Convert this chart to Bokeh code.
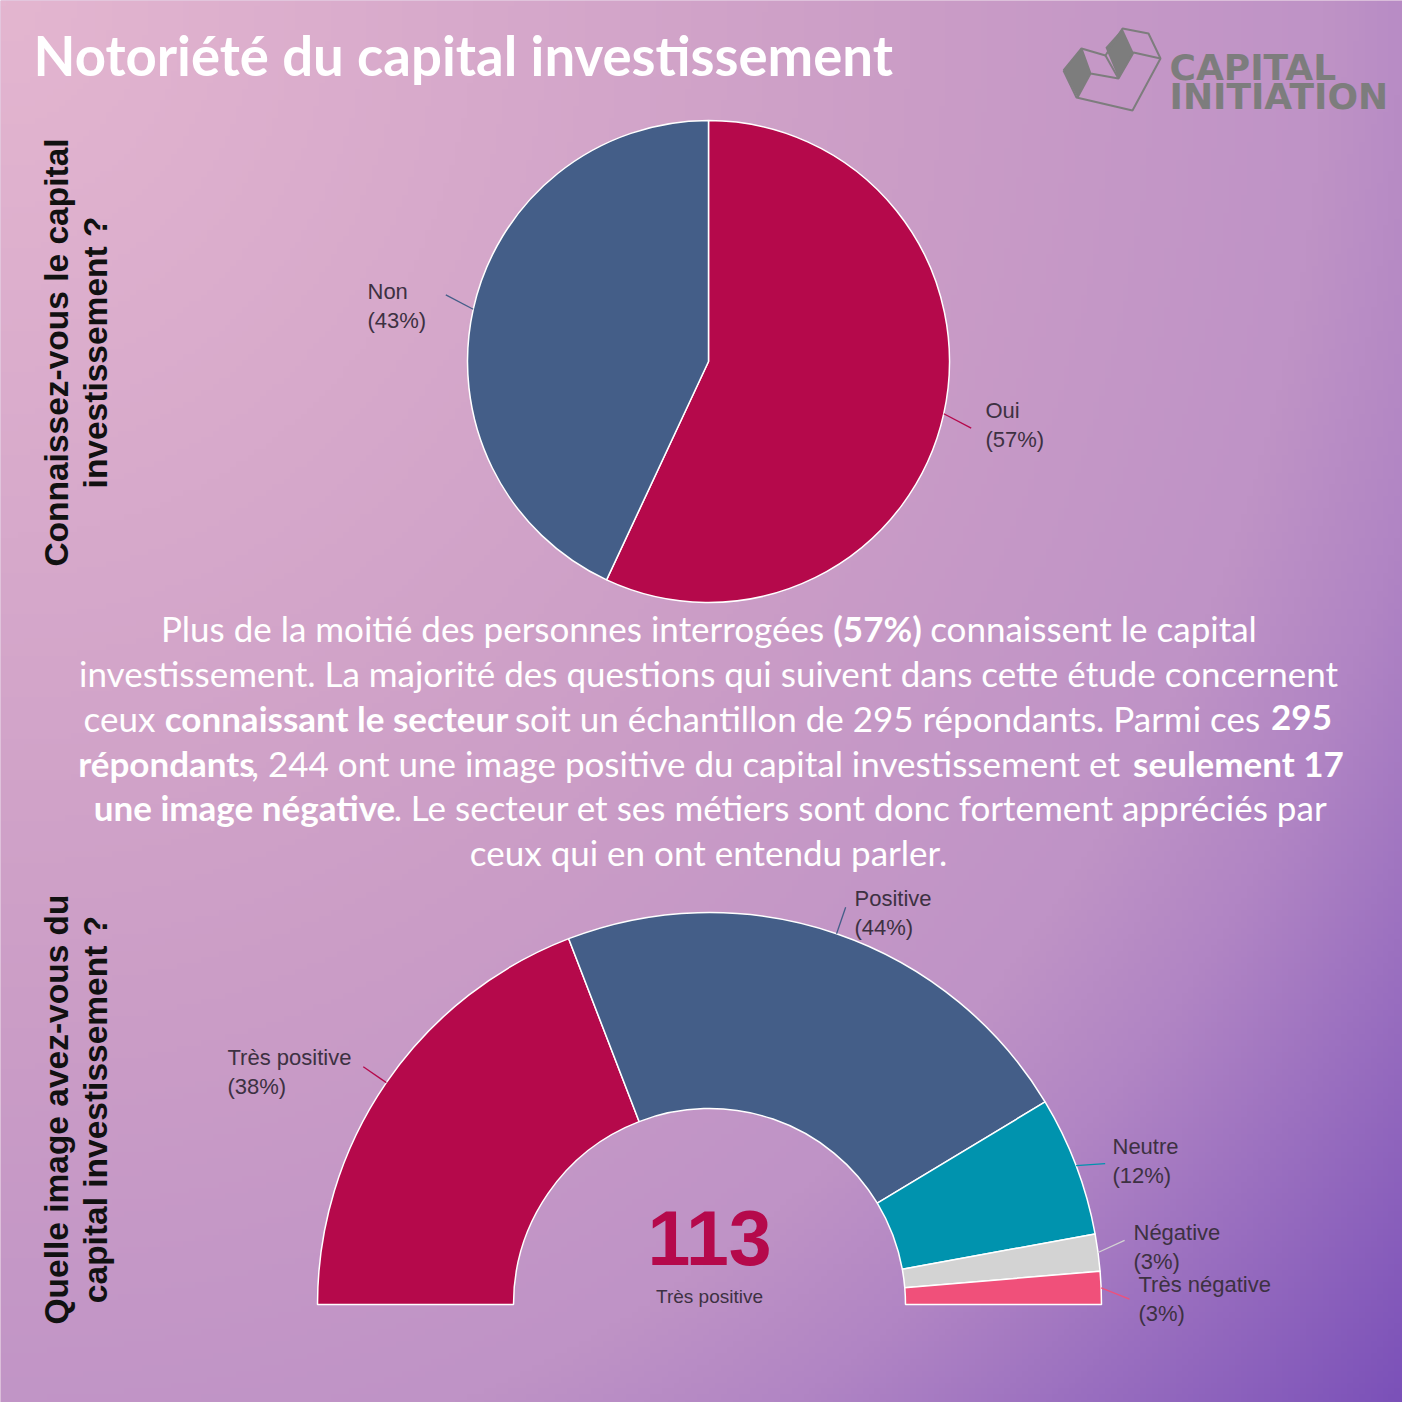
import numpy as np
from bokeh.plotting import figure
from bokeh.models import Range1d
from bokeh.core.properties import value
from bokeh.embed import file_html
from bokeh.resources import INLINE

# ---------------- data ----------------
title = "Notoriété du capital investissement"
q1_lines = ["Connaissez-vous le capital", "investissement ?"]
q2_lines = ["Quelle image avez-vous du", "capital investissement ?"]

pie1_labels = ["Oui", "Non"]
pie1_values = [295, 223]
pie1_pct = ["(57%)", "(43%)"]
pie1_colors = ["#b5094b", "#445e88"]

pie2_labels = ["Très positive", "Positive", "Neutre", "Négative", "Très négative"]
pie2_values = [113, 131, 34, 9, 8]
pie2_pct = ["(38%)", "(44%)", "(12%)", "(3%)", "(3%)"]
pie2_colors = ["#b5094b", "#445e88", "#0093ae", "#d3d3d3", "#f0507a"]
center_value = "113"
center_label = "Très positive"

para_text = [
    "Plus de la moitié des personnes interrogées", "(57%)", "connaissent le capital",
    "investissement. La majorité des questions qui suivent dans cette étude concernent",
    "ceux", "connaissant le secteur", "soit un échantillon de 295 répondants. Parmi ces", "295",
    "répondants", ", 244 ont une image positive du capital investissement et", "seulement 17",
    "une image négative", ". Le secteur et ses métiers sont donc fortement appréciés par",
    "ceux qui en ont entendu parler.",
]
para_bold = [False, True, False, False, False, True, False, True, True, False, True, True, False, False]
para_line = [0, 0, 0, 1, 2, 2, 2, 2, 3, 3, 3, 4, 4, 5]
para_cx = [492, 877, 1093, 708, 119, 336, 887, 1301, 166, 685, 1238, 244, 860, 708]

# ---------------- figure ----------------
IMG = 1418
W = H = 1402
K = 0.42  # baseline correction (em) of the svg text renderer


def Y(v):
    return IMG - np.asarray(v, dtype=float)


def BL(v, size):
    """data y of an anchor whose rendered baseline lands on image row v"""
    return Y(np.asarray(v, dtype=float) - K * size)


p = figure(width=W, height=H, x_range=Range1d(0, W), y_range=Range1d(IMG - H, IMG),
           output_backend="svg", toolbar_location=None, min_border=0)
p.axis.visible = False
p.grid.visible = False
p.outline_line_color = None
p.background_fill_color = "#c99bc6"
p.border_fill_color = "#c99bc6"

# background gradient (decoration)
n = 240
xs = np.linspace(0, IMG, n)
ys_img = np.linspace(IMG, 0, n)  # row 0 is bottom
gx, gy = np.meshgrid(xs, ys_img)
wx, wy = 1.06, 0.94
d = np.sqrt((wx * gx) ** 2 + (wy * gy) ** 2) / (IMG * np.sqrt(wx ** 2 + wy ** 2))
stops = [0.0, 0.5, 0.7, 0.78, 0.86, 1.0]
R = [228, 202, 191, 177, 156, 120]
G = [182, 156, 147, 133, 113, 78]
B = [208, 198, 198, 196, 192, 184]
r = np.interp(d, stops, R).astype(np.uint32)
g = np.interp(d, stops, G).astype(np.uint32)
b = np.interp(d, stops, B).astype(np.uint32)
img = (255 << 24) | (b << 16) | (g << 8) | r
p.image_rgba(image=[img.astype(np.uint32)], x=0, y=0, dw=IMG, dh=IMG)

# title
p.text(x=[33], y=BL([77], 54), text=[title], text_font=value("Lato"), text_font_style="bold",
       text_font_size="54.5px", text_color="white", text_align="left", text_baseline="alphabetic")

# vertical questions
for lines, cy in ((q1_lines, 352), (q2_lines, 1109)):
    p.text(x=np.array([70, 109]) - K * 33.5, y=Y([cy, cy]), text=lines, angle=np.pi / 2,
           text_font=value("Liberation Sans"), text_font_style="bold", text_font_size="33.5px",
           text_color="#111111", text_align="center", text_baseline="alphabetic")

label_color = "#3d3142"
LS = 22

# ---------------- pie 1 ----------------
c1x, c1y, r1 = 708, 361, 241
v1 = np.array(pie1_values, dtype=float)
cum1 = np.concatenate([[0], np.cumsum(v1) / v1.sum()])
start1 = np.pi / 2 - cum1[:-1] * 2 * np.pi
end1 = np.pi / 2 - cum1[1:] * 2 * np.pi
p.wedge(x=c1x, y=Y(c1y), radius=r1, start_angle=start1, end_angle=end1, direction="clock",
        fill_color=pie1_colors, line_color="white", line_width=1.5)
mid1 = (start1 + end1) / 2
lx0 = c1x + r1 * np.cos(mid1)
ly0 = Y(c1y) + r1 * np.sin(mid1)
lx1 = c1x + (r1 + 30) * np.cos(mid1 - 0.03)
ly1 = Y(c1y) + (r1 + 30) * np.sin(mid1 - 0.03)
p.segment(x0=lx0, y0=ly0, x1=lx1, y1=ly1, line_color=pie1_colors, line_width=1.3)
pie1_lab_x = [985, 367]
pie1_lab_y = [419, 300]
p.text(x=pie1_lab_x, y=BL(pie1_lab_y, LS), text=pie1_labels, text_font=value("Liberation Sans"),
       text_font_size="22px", text_color=label_color, text_align="left", text_baseline="alphabetic")
p.text(x=pie1_lab_x, y=BL(np.array(pie1_lab_y) + 29, LS), text=pie1_pct, text_font=value("Liberation Sans"),
       text_font_size="22px", text_color=label_color, text_align="left", text_baseline="alphabetic")

# ---------------- paragraph ----------------
PS = 35
base = [642, 687, 732, 777, 821, 866]
for bold in (False, True):
    idx = [i for i in range(len(para_text)) if para_bold[i] == bold]
    p.text(x=[para_cx[i] for i in idx], y=BL([base[para_line[i]] for i in idx], PS),
           text=[para_text[i] for i in idx], text_font=value("Lato"),
           text_font_style="bold" if bold else "normal", text_font_size=f"{PS}px",
           text_color="white", text_align="center", text_baseline="alphabetic")

# ---------------- pie 2 (half donut) ----------------
c2x, c2y, r2o, r2i = 709, 1304, 392, 196
v2 = np.array(pie2_values, dtype=float)
cum2 = np.concatenate([[0], np.cumsum(v2) / v2.sum()])
start2 = np.pi - cum2[:-1] * np.pi
end2 = np.pi - cum2[1:] * np.pi
p.annular_wedge(x=c2x, y=Y(c2y), inner_radius=r2i, outer_radius=r2o, start_angle=start2, end_angle=end2,
                direction="clock", fill_color=pie2_colors, line_color="white", line_width=1.5)
mid2 = (start2 + end2) / 2
nudge = np.array([0.0, 0.0, -0.02, 0.02, -0.03])
sx = c2x + r2o * np.cos(mid2)
sy = Y(c2y) + r2o * np.sin(mid2)
ex = c2x + (r2o + 28) * np.cos(mid2 + nudge)
ey = Y(c2y) + (r2o + 28) * np.sin(mid2 + nudge)
p.segment(x0=sx, y0=sy, x1=ex, y1=ey, line_color=pie2_colors, line_width=1.3)
pie2_lab_x = [227, 854, 1112, 1133, 1138]
pie2_lab_y = [1066, 907, 1155, 1241, 1293]
p.text(x=pie2_lab_x, y=BL(pie2_lab_y, LS), text=pie2_labels, text_font=value("Liberation Sans"),
       text_font_size="22px", text_color=label_color, text_align="left", text_baseline="alphabetic")
p.text(x=pie2_lab_x, y=BL(np.array(pie2_lab_y) + 29, LS), text=pie2_pct, text_font=value("Liberation Sans"),
       text_font_size="22px", text_color=label_color, text_align="left", text_baseline="alphabetic")

p.text(x=[c2x], y=BL([1269], 76), text=[center_value], text_font=value("Liberation Sans"), text_font_style="bold",
       text_font_size="77px", text_color="#b5094b", text_align="center", text_baseline="alphabetic")
p.text(x=[c2x], y=BL([1304], 19), text=[center_label], text_font=value("Liberation Sans"),
       text_font_size="19px", text_color=label_color, text_align="center", text_baseline="alphabetic")

# ---------------- logo (decoration) ----------------
logo_gray = "#7d7d7d"
p.patch(x=[1063, 1081, 1090, 1077], y=Y([70, 48, 73, 97]), fill_color=logo_gray, line_color=None)
p.patch(x=[1105, 1122, 1133, 1118], y=Y([47, 28, 52, 78]), fill_color=logo_gray, line_color=None)
p.line(x=[1063, 1081, 1105, 1122, 1148, 1160, 1132, 1076, 1063],
       y=Y([70, 48, 55, 28, 33, 58, 110, 97, 70]), line_color=logo_gray, line_width=2)
p.line(x=[1081, 1090, 1118, 1133, 1160], y=Y([48, 73, 78, 52, 58]), line_color=logo_gray, line_width=2)
p.line(x=[1090, 1077], y=Y([73, 97]), line_color=logo_gray, line_width=2)
p.line(x=[1118, 1105], y=Y([78, 55]), line_color=logo_gray, line_width=2)
p.text(x=[1169, 1169], y=BL([82, 111], 36), text=["CAPITAL", "INITIATION"], text_font=value("DejaVu Sans"),
       text_font_style="bold", text_font_size="36px", text_color=logo_gray, text_align="left",
       text_baseline="alphabetic")

open("out.html", "w").write(file_html(p, INLINE))
